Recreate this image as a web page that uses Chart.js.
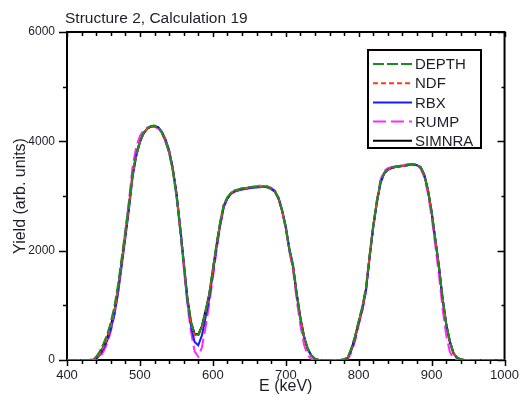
<!DOCTYPE html>
<html>
<head>
<meta charset="utf-8">
<script src="https://cdn.jsdelivr.net/npm/chart.js@4/dist/chart.umd.min.js"></script>
<style>
  html, body { margin: 0; padding: 0; background: #fff; }
  #wrap { width: 527px; height: 403px; }
</style>
</head>
<body>
<div id="wrap"><canvas id="yield" width="527" height="403"></canvas></div>
<script>
// energy grid (keV)
const energy = [400,
  430,435,440,445,450,455,460,465,470,475,
  480,485,490,495,500,505,510,515,520,525,
  530,535,540,545,550,555,560,565,570,575,
  580,585,590,595,600,605,610,615,620,625,
  630,635,640,645,650,655,660,665,670,675,
  680,685,690,695,700,705,710,715,720,725,
  730,735,740,745,750,755,760,765,770,775,
  780,785,790,795,800,805,810,815,820,825,
  830,835,840,845,850,855,860,865,870,875,
  880,885,890,895,900,905,910,915,920,925,
  930,935,940,945,950,
  1000];

const depth = [0,
  0,10,60,160,300,460,690,980,1380,1870,
  2360,2870,3420,3770,4010,4160,4240,4280,4290,4250,
  4160,4000,3790,3460,3000,2400,1760,1120,690,470,
  460,610,890,1200,1660,2120,2530,2850,2980,3060,
  3100,3120,3140,3150,3160,3170,3170,3180,3180,3170,
  3140,3090,2960,2730,2430,2020,1710,1210,770,430,
  210,90,25,0,0,0,0,0,0,0,
  15,50,220,440,720,980,1330,1930,2480,2920,
  3270,3430,3490,3520,3540,3550,3560,3570,3580,3585,
  3570,3530,3390,3110,2720,2220,1720,1140,670,350,
  130,45,12,0,0,
  0];

const ndf = [0,
  0,0,25,110,240,390,610,890,1290,1790,
  2290,2810,3390,3750,3990,4140,4230,4270,4280,4250,
  4170,4030,3830,3510,3060,2460,1800,1140,680,450,
  440,600,890,1200,1650,2100,2500,2830,2960,3050,
  3090,3110,3130,3140,3150,3160,3170,3170,3170,3160,
  3130,3080,2960,2730,2430,2010,1710,1210,770,430,
  210,85,20,0,0,0,0,0,0,0,
  10,40,200,420,700,950,1300,1900,2450,2900,
  3250,3420,3480,3510,3530,3540,3550,3560,3570,3575,
  3560,3520,3380,3100,2710,2210,1710,1130,660,340,
  125,40,10,0,0,
  0];

const rbx = [0,
  0,0,20,90,210,350,560,830,1220,1720,
  2230,2760,3350,3730,3980,4140,4230,4270,4280,4260,
  4180,4040,3840,3520,3070,2460,1780,1100,620,330,
  270,450,780,1120,1580,2050,2460,2800,2950,3040,
  3080,3100,3120,3130,3140,3150,3160,3160,3170,3160,
  3130,3090,2970,2750,2450,2040,1740,1230,780,440,
  210,85,20,0,0,0,0,0,0,0,
  5,30,180,390,670,920,1270,1870,2420,2880,
  3240,3410,3480,3510,3530,3540,3550,3560,3570,3575,
  3565,3525,3390,3110,2720,2220,1720,1140,660,340,
  125,40,10,0,0,
  0];

const rump = [0,
  0,0,5,50,150,300,520,830,1260,1800,
  2350,2920,3550,3900,4100,4200,4250,4270,4270,4230,
  4150,4000,3800,3480,3020,2400,1700,1020,520,160,
  60,230,600,1020,1500,2000,2450,2800,2960,3060,
  3100,3120,3140,3150,3160,3170,3180,3190,3190,3180,
  3150,3100,2970,2730,2400,1980,1640,1100,640,280,
  90,20,0,0,0,0,0,0,0,0,
  0,15,140,350,640,900,1260,1880,2450,2930,
  3300,3460,3510,3530,3540,3550,3560,3570,3580,3580,
  3550,3500,3340,3040,2620,2100,1560,950,450,150,
  30,5,0,0,0,
  0];

const simnra = [0,
  0,0,30,120,250,400,620,900,1300,1800,
  2300,2820,3400,3760,4000,4150,4230,4270,4280,4250,
  4170,4020,3820,3500,3050,2450,1800,1150,700,480,
  470,620,900,1200,1650,2100,2500,2830,2960,3050,
  3090,3110,3130,3140,3150,3160,3160,3170,3170,3160,
  3130,3080,2950,2720,2420,2000,1700,1200,760,420,
  200,80,20,0,0,0,0,0,0,0,
  10,40,200,420,700,950,1300,1900,2450,2900,
  3250,3420,3480,3510,3530,3540,3550,3560,3570,3575,
  3560,3520,3380,3100,2700,2200,1700,1120,650,330,
  120,40,10,0,0,
  0];

const seriesNames = ['DEPTH', 'NDF', 'RBX', 'RUMP', 'SIMNRA'];
const seriesData = [depth, ndf, rbx, rump, simnra];
const seriesColors = ['#1c8c1c', '#ff3a1a', '#1a1aff', '#ff2aff', '#000000'];
const seriesDash = [[11, 3], [5, 3], [], [13, 5], []];

const xTickStep = 100, xMinorStep = 20;
const yTickStep = 2000, yMinorStep = 1000;

const FONT = '"Liberation Sans", Arial, sans-serif';
const TEXT = '#1e1e2a';

const datasets = seriesNames.map((name, i) => ({
  label: name,
  data: energy.map((e, k) => ({ x: e, y: seriesData[i][k] })),
  borderColor: seriesColors[i],
  borderDash: seriesDash[i],
  borderWidth: 2,
  pointRadius: 0,
  tension: 0,
  fill: false
}));

// axis frame, tick marks, legend box and text labels
const decor = {
  id: 'decor',
  beforeDatasetsDraw(chart) {
    const { ctx, chartArea: a, scales: { x, y } } = chart;
    ctx.save();
    ctx.strokeStyle = '#000';
    ctx.lineWidth = 2;
    ctx.strokeRect(a.left, a.top, a.right - a.left, a.bottom - a.top);
    ctx.lineWidth = 1.5;
    ctx.beginPath();
    for (let v = x.min; v <= x.max; v += xMinorStep) {
      const px = Math.round(x.getPixelForValue(v)) + 0.5;
      const major = v % xTickStep === 0;
      ctx.moveTo(px, a.bottom); ctx.lineTo(px, a.bottom + (major ? 6 : 4));
      ctx.moveTo(px, a.top); ctx.lineTo(px, a.top + (major ? 5 : 4));
    }
    for (let v = y.min; v <= y.max; v += yMinorStep) {
      const py = Math.round(y.getPixelForValue(v)) + 0.5;
      const major = v % yTickStep === 0;
      ctx.moveTo(a.left, py); ctx.lineTo(a.left - (major ? 8 : 4), py);
      ctx.moveTo(a.right, py); ctx.lineTo(a.right - (major ? 7 : 3), py);
    }
    ctx.stroke();
    ctx.restore();
  },
  afterDraw(chart) {
    const { ctx, chartArea: a } = chart;
    ctx.save();
    ctx.fillStyle = TEXT;

    // title
    ctx.font = '15.5px ' + FONT;
    ctx.textAlign = 'left';
    ctx.textBaseline = 'alphabetic';
    ctx.fillText('Structure 2, Calculation 19', a.left - 2, 23);

    // axis titles
    ctx.font = '16px ' + FONT;
    ctx.textAlign = 'center';
    ctx.fillText('E (keV)', (a.left + a.right) / 2, 391);
    ctx.save();
    ctx.translate(25, 196);
    ctx.rotate(-Math.PI / 2);
    ctx.fillText('Yield (arb. units)', 0, 0);
    ctx.restore();

    // legend
    const lx = 368, ly = 50, lw = 113, lh = 98;
    ctx.fillStyle = '#fff';
    ctx.fillRect(lx, ly, lw, lh);
    ctx.strokeStyle = '#000';
    ctx.lineWidth = 2;
    ctx.strokeRect(lx, ly, lw, lh);
    ctx.font = '15px ' + FONT;
    ctx.textAlign = 'left';
    ctx.textBaseline = 'middle';
    seriesNames.forEach((name, i) => {
      const ry = 64 + i * 19.2;
      ctx.strokeStyle = seriesColors[i];
      ctx.lineWidth = 2;
      ctx.setLineDash(seriesDash[i]);
      ctx.beginPath();
      ctx.moveTo(373, ry);
      ctx.lineTo(412, ry);
      ctx.stroke();
      ctx.setLineDash([]);
      ctx.fillStyle = TEXT;
      ctx.fillText(name, 415, ry + 1);
    });
    ctx.restore();
  }
};

new Chart(document.getElementById('yield'), {
  type: 'line',
  data: { datasets: datasets },
  options: {
    responsive: false,
    animation: false,
    layout: { padding: { top: 32, right: 19, left: 0, bottom: 0 } },
    plugins: {
      legend: { display: false },
      title: { display: false },
      tooltip: { enabled: false }
    },
    scales: {
      x: {
        type: 'linear',
        min: 400,
        max: 1000,
        afterFit: s => { s.height = 43; },
        grid: { display: false, drawTicks: false },
        border: { display: false },
        ticks: {
          stepSize: xTickStep,
          padding: 8,
          color: TEXT,
          font: { family: FONT, size: 13 },
          maxRotation: 0,
          callback: v => String(v)
        }
      },
      y: {
        min: 0,
        max: 6000,
        afterFit: s => { s.width = 67; },
        grid: { display: false, drawTicks: false },
        border: { display: false },
        ticks: {
          stepSize: yTickStep,
          padding: 12,
          color: TEXT,
          font: { family: FONT, size: 12 },
          callback: v => String(v)
        }
      }
    }
  },
  plugins: [decor]
});
</script>
</body>
</html>
